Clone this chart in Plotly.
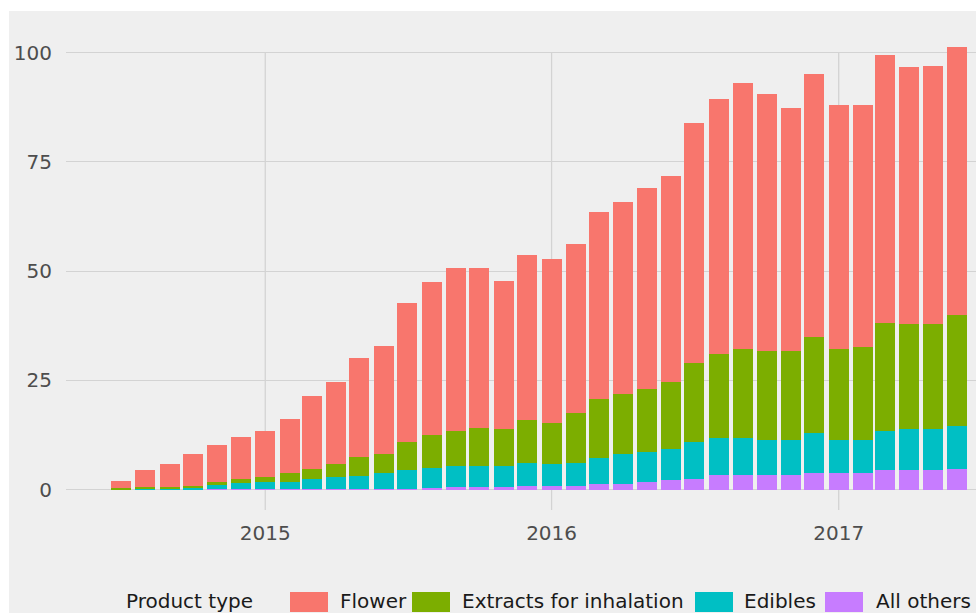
import plotly.graph_objects as go

# monthly data, Jul 2014 - Jun 2017
months = [
    '2014-07-01', '2014-08-01', '2014-09-01', '2014-10-01', '2014-11-01', '2014-12-01',
    '2015-01-01', '2015-02-01', '2015-03-01', '2015-04-01', '2015-05-01', '2015-06-01',
    '2015-07-01', '2015-08-01', '2015-09-01', '2015-10-01', '2015-11-01', '2015-12-01',
    '2016-01-01', '2016-02-01', '2016-03-01', '2016-04-01', '2016-05-01', '2016-06-01',
    '2016-07-01', '2016-08-01', '2016-09-01', '2016-10-01', '2016-11-01', '2016-12-01',
    '2017-01-01', '2017-02-01', '2017-03-01', '2017-04-01', '2017-05-01', '2017-06-01',
]
flower = [1.65, 3.9, 5.3, 7.3, 8.3, 9.8, 10.4, 12.5, 16.5, 18.9, 22.8, 24.8,
          31.7, 34.9, 37.3, 36.6, 34.0, 37.9, 37.4, 38.7, 42.8, 44.1, 46.0, 47.2,
          54.8, 58.4, 61.0, 58.8, 55.6, 60.1, 55.9, 55.5, 61.2, 58.8, 59.2, 61.3]
extracts = [0.25, 0.4, 0.3, 0.3, 0.8, 0.9, 1.2, 1.9, 2.5, 3.0, 4.2, 4.4,
            6.4, 7.6, 8.0, 8.7, 8.4, 9.7, 9.5, 11.3, 13.3, 13.7, 14.3, 15.3,
            18.1, 19.3, 20.4, 20.5, 20.5, 22.1, 20.9, 21.3, 24.9, 24.0, 24.0, 25.3]
edibles = [0.1, 0.2, 0.2, 0.45, 0.95, 1.3, 1.6, 1.7, 2.15, 2.65, 3.0, 3.5,
           4.3, 4.6, 4.8, 4.9, 4.9, 5.3, 5.0, 5.2, 6.0, 6.8, 6.8, 7.2,
           8.5, 8.4, 8.4, 8.0, 8.0, 9.2, 7.6, 7.6, 8.8, 9.3, 9.3, 9.8]
others = [0.0, 0.0, 0.0, 0.05, 0.05, 0.1, 0.1, 0.1, 0.15, 0.15, 0.2, 0.2,
          0.2, 0.3, 0.5, 0.5, 0.5, 0.8, 0.8, 0.9, 1.3, 1.3, 1.8, 2.1,
          2.4, 3.3, 3.3, 3.3, 3.3, 3.7, 3.7, 3.7, 4.5, 4.5, 4.5, 4.8]

year_ticks = ['2015-01-01', '2016-01-01', '2017-01-01']
y_ticks = [0, 25, 50, 75, 100]

# stacking order bottom -> top
series = [
    ('All others', others, '#C77CFF'),
    ('Edibles', edibles, '#00BFC4'),
    ('Extracts for inhalation', extracts, '#7CAE00'),
    ('Flower', flower, '#F8766D'),
]
legend_order = ['Flower', 'Extracts for inhalation', 'Edibles', 'All others']

W, H = 976, 613
L, R, T, B = 66, 0, 12, 103
BG = '#EFEFEF'
GRID = '#D3D3D3'
FONT = 'DejaVu Sans'
BAR_W = 25.5 * 86400000  # ms


def px(x):
    return (x - L) / (W - L - R)


def py(y):
    return (H - B - y) / (H - T - B)


fig = go.Figure()
for name, vals, color in series:
    fig.add_trace(go.Bar(
        x=months, y=vals, name=name, width=BAR_W,
        marker=dict(color=color, line=dict(width=0)),
        showlegend=False
    ))

shapes = []
# vertical grid lines, stop at the top grid line
for yr in year_ticks:
    shapes.append(dict(type='line', xref='x', yref='y', x0=yr, x1=yr,
                       y0=-4.69, y1=100, layer='below',
                       line=dict(color=GRID, width=1.3)))
# white margin strips (cropped image edge)
shapes.append(dict(type='rect', xref='paper', yref='paper', x0=px(-5), x1=px(W + 5),
                   y0=py(11), y1=py(-5), fillcolor='white', line=dict(width=0), layer='above'))
shapes.append(dict(type='rect', xref='paper', yref='paper', x0=px(-5), x1=px(9),
                   y0=py(H + 5), y1=py(-5), fillcolor='white', line=dict(width=0), layer='above'))

annotations = [dict(text='Product type', xref='paper', yref='paper', x=px(124), y=py(601),
                    xanchor='left', yanchor='middle', showarrow=False,
                    font=dict(family=FONT, size=20, color='#1a1a1a'))]
# manual legend: swatch x, text x
legend_pos = [(290, 338), (412, 460), (695, 742), (825, 874)]
colors = {n: c for n, _, c in series}
for name, (sx, tx) in zip(legend_order, legend_pos):
    shapes.append(dict(type='rect', xref='paper', yref='paper', x0=px(sx), x1=px(sx + 38),
                       y0=py(612), y1=py(592), fillcolor=colors[name],
                       line=dict(width=0)))
    annotations.append(dict(text=name, xref='paper', yref='paper', x=px(tx), y=py(601),
                            xanchor='left', yanchor='middle', showarrow=False,
                            font=dict(family=FONT, size=20, color='#1a1a1a')))

fig.update_layout(
    width=W, height=H,
    margin=dict(l=L, r=R, t=T, b=B),
    barmode='stack',
    paper_bgcolor=BG, plot_bgcolor=BG,
    font=dict(family=FONT, size=20, color='#4d4d4d'),
    shapes=shapes, annotations=annotations,
    showlegend=False,
)
fig.update_xaxes(
    type='date', range=['2014-04-22', '2017-06-25'],
    tickvals=year_ticks, tickformat='%Y',
    showgrid=False, zeroline=False, showline=False, ticks='',
    ticklabelstandoff=9,
    tickfont=dict(family=FONT, size=20, color='#4d4d4d'),
)
fig.update_yaxes(
    range=[-4.69, 109.27], tickvals=y_ticks,
    showgrid=True, gridcolor=GRID, gridwidth=1.3,
    zeroline=False, showline=False, ticks='',
    ticklabelstandoff=13,
    tickfont=dict(family=FONT, size=20, color='#4d4d4d'),
)

fig.write_html('out.html', config={'displayModeBar': False},
               post_script="document.body.style.margin='0';document.body.style.overflow='hidden';")
